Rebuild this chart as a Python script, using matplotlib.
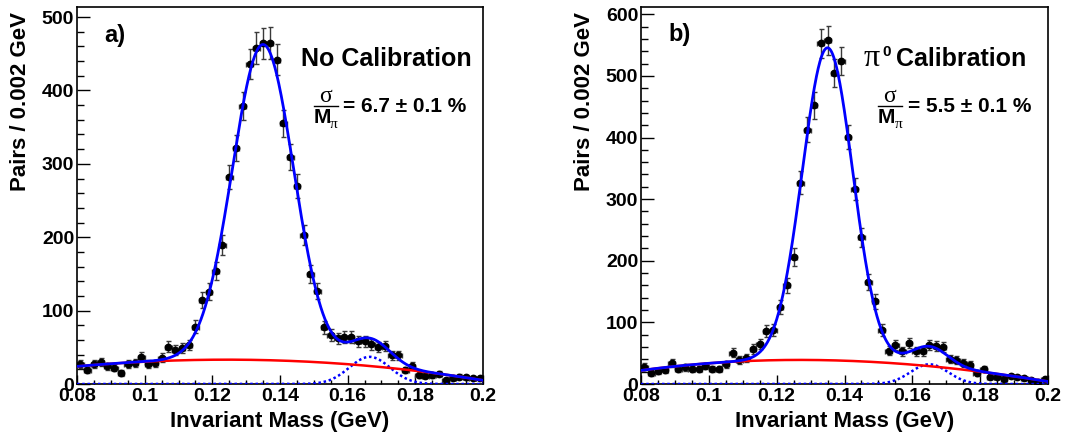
import numpy as np
import matplotlib
matplotlib.use("Agg")
import matplotlib.pyplot as plt
from matplotlib.ticker import MultipleLocator, FuncFormatter
from matplotlib.lines import Line2D

plt.rcParams['font.family'] = ['Liberation Sans', 'DejaVu Sans']

# ---------------- data ----------------
bin_width = 0.002
bin_centers = np.arange(0.081, 0.2, bin_width)   # 60 bins, 0.08 - 0.20 GeV

counts_a = [27, 19, 27, 30, 24, 22, 15, 27, 29, 37,
            27, 28, 36, 51, 46, 49, 53, 78, 114, 126,
            154, 189, 282, 322, 379, 436, 458, 464, 465, 442,
            355, 309, 270, 203, 150, 127, 77, 67, 62, 64,
            64, 58, 58, 54, 50, 52, 39, 39, 19, 25,
            12, 11, 12, 14, 5, 8, 10, 9, 8, 8]

counts_b = [28, 18, 21, 22, 34, 25, 27, 25, 25, 29,
            25, 25, 32, 51, 39, 42, 57, 65, 86, 88,
            125, 160, 206, 327, 413, 452, 553, 558, 505, 524,
            401, 317, 238, 165, 134, 88, 54, 63, 53, 66,
            53, 53, 63, 62, 60, 40, 39, 34, 31, 18,
            24, 12, 11, 8, 13, 11, 9, 7, 4, 8]

# fit parameters: background cubic in t=(x-0.14)/0.06, main gaussian, side gaussian
bkg_a = [31.975, -9.05, -17.475, -0.45]
peak_a = (430.0, 0.135, 0.00906)
side_a = (37.0, 0.1665, 0.0060)

bkg_b = [37.83, -11.23, -24.83, 2.23]
peak_b = (507.0, 0.135, 0.00743)
side_b = (32.0, 0.165, 0.0055)

panel_tags = ["a)", "b)"]
result_texts = ["= 6.7 \u00b1 0.1 %", "= 5.5 \u00b1 0.1 %"]
ymax_vals = [513, 611]

W, H = 1078, 436
fig = plt.figure(figsize=(W / 100, H / 100), dpi=100)


def fx(x):
    return x / W


def fy(y):
    return 1 - y / H


def gauss(x, p):
    a, m, s = p
    return a * np.exp(-0.5 * ((x - m) / s) ** 2)


def draw(ax, counts, bkg, peak, side, ymax):
    counts = np.asarray(counts, float)
    ax.errorbar(bin_centers, counts, yerr=np.sqrt(counts), xerr=bin_width / 2,
                fmt='o', ms=4.6, mfc='black', mec='black', ecolor='#3a3a3a',
                elinewidth=1.0, capsize=1.8, capthick=1.0, zorder=2)
    xf = np.linspace(0.08, 0.2, 1200)
    t = (xf - 0.14) / 0.06
    b = bkg[0] + bkg[1] * t + bkg[2] * t ** 2 + bkg[3] * t ** 3
    g1 = gauss(xf, peak)
    g2 = gauss(xf, side)
    ax.plot(xf, g2, color='#0000ff', lw=1.8, ls=(0, (1, 1.1)), zorder=3)
    ax.plot(xf, b, color='#ff0000', lw=1.8, zorder=3)
    ax.plot(xf, b + g1 + g2, color='#0000ff', lw=2.0, zorder=4)

    ax.set_xlim(0.08, 0.2)
    ax.set_ylim(0, ymax)
    ax.xaxis.set_major_locator(MultipleLocator(0.02))
    ax.xaxis.set_minor_locator(MultipleLocator(0.005))
    ax.yaxis.set_major_locator(MultipleLocator(100))
    ax.yaxis.set_minor_locator(MultipleLocator(20))
    ax.xaxis.set_major_formatter(FuncFormatter(lambda v, p: ('%.3f' % v).rstrip('0').rstrip('.')))
    ax.yaxis.set_major_formatter(FuncFormatter(lambda v, p: '%d' % round(v)))
    ax.tick_params(which='both', direction='in', top=False, right=False, width=1.0, color='black')
    ax.tick_params(axis='y', which='major', length=9.4, pad=2, labelsize=14)
    ax.tick_params(axis='y', which='minor', length=4.8)
    ax.tick_params(axis='x', which='major', length=6.3, pad=3, labelsize=14)
    ax.tick_params(axis='x', which='minor', length=2.7)
    for lab in ax.get_xticklabels() + ax.get_yticklabels():
        lab.set_fontweight('bold')
    for sp in ax.spines.values():
        sp.set_linewidth(1.2)


axes_px = [(77, 483), (641, 1048)]
top_px, bot_px = 7.5, 384
axs = []
for (l, r) in axes_px:
    axs.append(fig.add_axes([fx(l), fy(bot_px), (r - l) / W, (bot_px - top_px) / H]))

draw(axs[0], counts_a, bkg_a, peak_a, side_a, ymax_vals[0])
draw(axs[1], counts_b, bkg_b, peak_b, side_b, ymax_vals[1])

bold = dict(fontweight='bold', color='black')
serif = ['Liberation Serif', 'DejaVu Serif']

# axis titles
for (l, r), ylx in zip(axes_px, [21, 584]):
    fig.text(fx((l + r) / 2), fy(427), "Invariant Mass (GeV)", fontsize=16,
             ha='center', va='baseline', **bold)
    fig.text(fx(ylx), fy(12), "Pairs / 0.002 GeV", fontsize=16, rotation=90,
             ha='center', va='top', **bold)

# panel tags
fig.text(fx(104), fy(42), panel_tags[0], fontsize=17, ha='left', va='baseline', **bold)
fig.text(fx(668), fy(41), panel_tags[1], fontsize=17, ha='left', va='baseline', **bold)

# titles
fig.text(fx(301), fy(65.5), "No Calibration", fontsize=18, ha='left', va='baseline', **bold)
fig.text(fx(864), fy(65.5), "\u03c0", fontsize=23, ha='left', va='baseline',
         family=serif, color='black')
fig.text(fx(882), fy(56), "0", fontsize=11, ha='left', va='baseline', **bold)
fig.text(fx(896), fy(65.5), "Calibration", fontsize=18, ha='left', va='baseline', **bold)

# fractions sigma / M_pi
for xc, txt_x, txt in [(325.5, 343, result_texts[0]), (890, 908, result_texts[1])]:
    fig.text(fx(xc), fy(102), "\u03c3", fontsize=17, ha='center', va='baseline',
             family=serif, color='black')
    fig.add_artist(Line2D([fx(xc - 12), fx(xc + 12)], [fy(106), fy(106)],
                          color='black', lw=1.0, transform=fig.transFigure))
    fig.text(fx(xc - 12), fy(123), "M", fontsize=15, ha='left', va='baseline', **bold)
    fig.text(fx(xc + 4.5), fy(128), "\u03c0", fontsize=11, ha='left', va='baseline',
             family=serif, color='black')
    fig.text(fx(txt_x), fy(112), txt, fontsize=15, ha='left', va='baseline', **bold)

fig.savefig("out.png", dpi=100)
